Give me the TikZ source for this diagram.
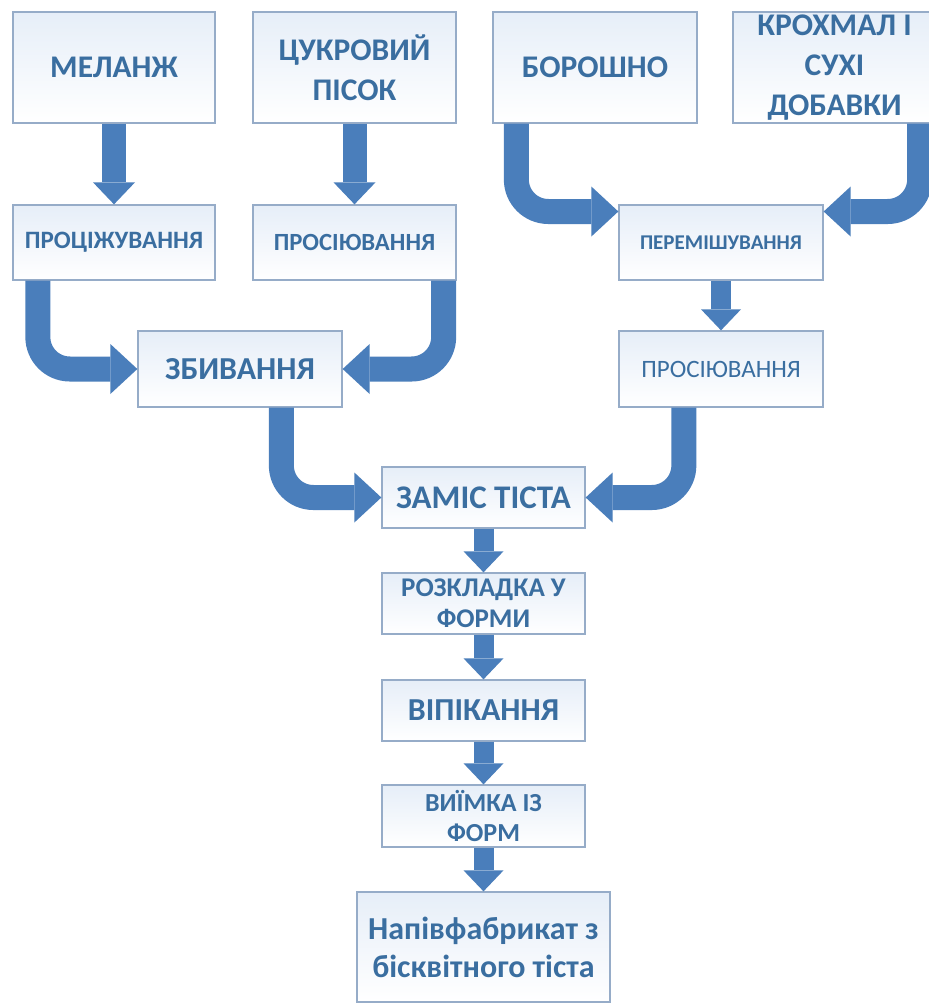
\documentclass[tikz,border=0pt]{standalone}
\usepackage{fontspec}
\setmainfont{Carlito}
\usetikzlibrary{arrows.meta}
\definecolor{txt}{RGB}{58,110,160}
\definecolor{arr}{RGB}{74,126,187}
\definecolor{bord}{RGB}{150,172,200}
\definecolor{boxtop}{RGB}{230,238,248}
\begin{document}
\begin{tikzpicture}[x=1pt,y=-1pt,
  box/.style={draw=bord, line width=1.3pt, top color=boxtop, bottom color=white,
    inner sep=0pt, align=center, text=txt, font=\bfseries},
  big/.style={font=\bfseries\fontsize{31.5}{40}\selectfont},
  sarr/.style={draw=arr, line width=24pt, -{Triangle[length=22pt,width=42pt,line width=0pt]}},
  narr/.style={draw=arr, line width=20pt, -{Triangle[length=21pt,width=40pt,line width=0pt]}},
  bent/.style={draw=arr, line width=25pt, rounded corners=32pt, -{Triangle[length=27pt,width=50pt,line width=0pt]}}
]
\path[fill=white] (0,0) rectangle (929,1004);
\useasboundingbox (0,0) rectangle (929,1004);
\clip (0,0) rectangle (929,1004);

\node[box, big, minimum width=202pt, minimum height=111pt] (mel) at (114,67.5) {МЕЛАНЖ};
\node[box, big, minimum width=203pt, minimum height=111pt] (sug) at (354.5,67.5) {ЦУКРОВИЙ\\ПІСОК};
\node[box, big, minimum width=204pt, minimum height=111pt] (flo) at (595,67.5) {БОРОШНО};
\node[box, big, minimum width=203pt, minimum height=111pt] (sta) at (834.5,67.5) {КРОХМАЛ І\\СУХІ\\ДОБАВКИ};

\node[box, font=\bfseries\fontsize{25}{30}\selectfont, minimum width=202pt, minimum height=75pt] (pro) at (114,242.5) {ПРОЦІЖУВАННЯ};
\node[box, font=\bfseries\fontsize{24.7}{30}\selectfont, minimum width=203pt, minimum height=75pt] (si1) at (354.5,242.5) {ПРОСІЮВАННЯ};
\node[box, font=\bfseries\fontsize{21}{26}\selectfont, minimum width=204pt, minimum height=75pt] (mix) at (721,242.5) {ПЕРЕМІШУВАННЯ};

\node[box, font=\bfseries\fontsize{32}{40}\selectfont, minimum width=204pt, minimum height=76pt] (whi) at (240,369) {ЗБИВАННЯ};
\node[box, font=\fontsize{25}{30}\selectfont, minimum width=204pt, minimum height=76pt] (si2) at (721,369) {ПРОСІЮВАННЯ};

\node[box, font=\bfseries\fontsize{33}{40}\selectfont, minimum width=203pt, minimum height=61pt] (kne) at (483.5,497.5) {ЗАМІС ТІСТА};
\node[box, font=\bfseries\fontsize{27}{31}\selectfont, minimum width=203pt, minimum height=61pt] (lay) at (483.5,603.5) {РОЗКЛАДКА У\\ФОРМИ};
\node[box, font=\bfseries\fontsize{32}{40}\selectfont, minimum width=203pt, minimum height=61pt] (bak) at (483.5,710.5) {ВІПІКАННЯ};
\node[box, font=\bfseries\fontsize{26}{30}\selectfont, minimum width=203pt, minimum height=62pt] (rem) at (483.5,816) {ВИЇМКА ІЗ\\ФОРМ};
\node[box, font=\bfseries\fontsize{32}{38}\selectfont, minimum width=253pt, minimum height=110pt] (fin) at (483.5,947) {Напівфабрикат з\\бісквітного тіста};

\draw[sarr] (mel.south) -- (pro.north);
\draw[sarr] (sug.south) -- (si1.north);
\draw[narr] (mix.south) -- (si2.north);
\draw[narr] (kne.south) -- (lay.north);
\draw[narr] (lay.south) -- (bak.north);
\draw[narr] (bak.south) -- (rem.north);
\draw[narr] (rem.south) -- (fin.north);

\draw[bent] ([xshift=25.5pt]pro.south west) |- (whi.west);
\draw[bent] ([xshift=-13pt]si1.south east) |- (whi.east);
\draw[bent] ([xshift=24pt]flo.south west) |- ([yshift=31pt]mix.west);
\draw[bent] ([xshift=-17pt]sta.south east) |- ([yshift=31pt]mix.east);
\draw[bent] ([xshift=144pt]whi.south west) |- (kne.west);
\draw[bent] ([xshift=65.5pt]si2.south west) |- (kne.east);
\end{tikzpicture}
\end{document}
